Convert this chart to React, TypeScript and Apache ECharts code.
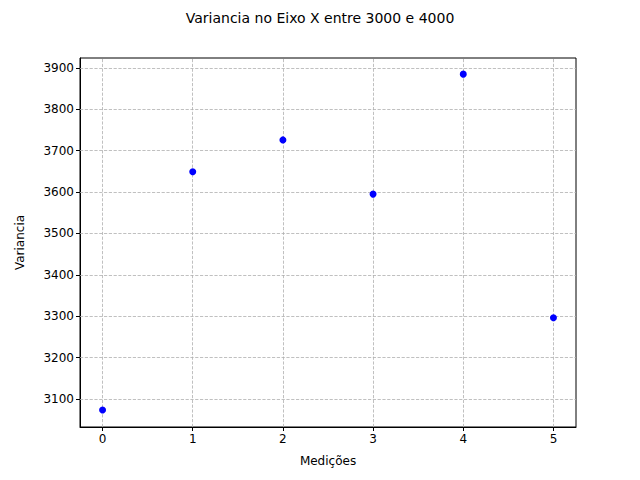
import React, { useEffect, useRef } from "react";
import * as echarts from "echarts";

const xValues = [0, 1, 2, 3, 4, 5];
const yValues = [3073, 3649, 3726, 3595, 3885, 3296];
const xTicks = [0, 1, 2, 3, 4, 5];
const yTicks = [3100, 3200, 3300, 3400, 3500, 3600, 3700, 3800, 3900];

export default function App() {
  const ref = useRef<HTMLDivElement>(null);
  useEffect(() => {
    const chart = echarts.init(ref.current!, null, { renderer: "svg" });
    const font = "DejaVu Sans";
    const gridLine = { type: "dashed", color: "#b0b0b0", width: 0.8 };
    chart.setOption({
      animation: false,
      textStyle: { fontFamily: font },
      title: {
        text: "Variancia no Eixo X entre 3000 e 4000",
        left: "center",
        top: 6,
        textStyle: { fontFamily: font, fontSize: 14, fontWeight: "normal", color: "#000" },
      },
      grid: { left: 80, right: 64, top: 58, bottom: 53, show: true, borderColor: "#000", borderWidth: 1, backgroundColor: "transparent" },
      xAxis: {
        type: "value",
        min: -0.25,
        max: 5.25,
        name: "Medições",
        nameLocation: "middle",
        nameGap: 28,
        nameTextStyle: { fontFamily: font, fontSize: 12, color: "#000" },
        axisLine: { show: true, onZero: false, lineStyle: { color: "#000" } },
        axisTick: { show: true, customValues: xTicks, length: 4, lineStyle: { color: "#000" } },
        axisLabel: { customValues: xTicks, formatter: (v: number) => String(v), fontFamily: font, fontSize: 12, color: "#000", margin: 6 },
        splitLine: { show: false },
      },
      yAxis: {
        type: "value",
        min: 3032,
        max: 3924,
        name: "Variancia",
        nameLocation: "middle",
        nameGap: 54,
        nameTextStyle: { fontFamily: font, fontSize: 12, color: "#000" },
        axisLine: { show: true, onZero: false, lineStyle: { color: "#000" } },
        axisTick: { show: true, customValues: yTicks, length: 4, lineStyle: { color: "#000" } },
        axisLabel: { customValues: yTicks, formatter: (v: number) => String(v), fontFamily: font, fontSize: 12, color: "#000", margin: 6 },
        splitLine: { show: false },
      },
      series: [
        {
          type: "scatter",
          data: xValues.map((x, i) => [x, yValues[i]]),
          symbolSize: 7,
          itemStyle: { color: "#0000ff", opacity: 1 },
          z: 5,
          markLine: {
            silent: true,
            symbol: "none",
            label: { show: false },
            lineStyle: gridLine,
            z: 1,
            data: [
              ...xTicks.map((v) => ({ xAxis: v })),
              ...yTicks.map((v) => ({ yAxis: v })),
            ],
          },
        },
      ],
    });
    return () => chart.dispose();
  }, []);
  return <div ref={ref} style={{ width: 640, height: 480, margin: -8 }} />;
}
